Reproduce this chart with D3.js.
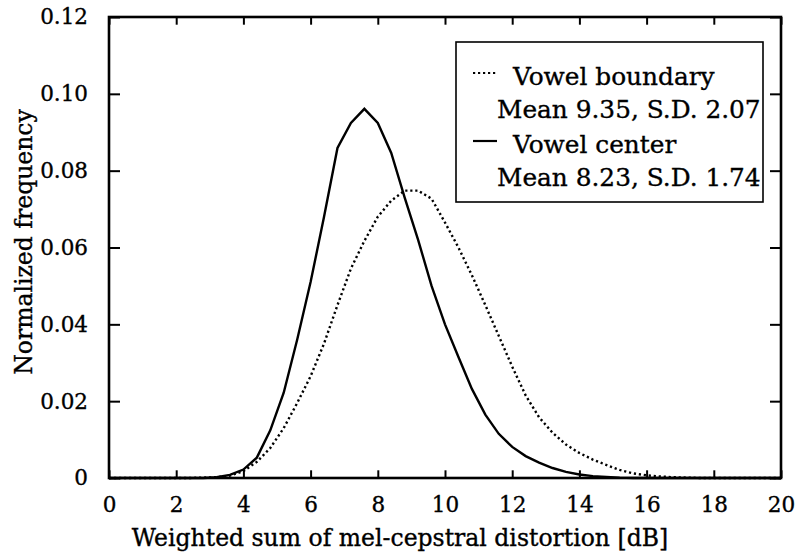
<!DOCTYPE html>
<html>
<head>
<meta charset="utf-8">
<script src="https://cdn.jsdelivr.net/npm/d3@7/dist/d3.min.js"></script>
<style>
  html, body { margin: 0; padding: 0; background: #fff; }
  svg { display: block; }
  text { font-family: "DejaVu Serif", "Liberation Serif", serif; fill: #000; stroke: #000; stroke-width: 0.35px; }
</style>
</head>
<body>
<svg id="chart" width="799" height="559"></svg>
<script>
// Histogram bin centres [dB]
const binCentres = [0, 0.4, 0.8, 1.2, 1.6, 2.0, 2.4, 2.8, 3.2, 3.6, 4.0, 4.4, 4.8, 5.2, 5.6, 6.0,
  6.4, 6.8, 7.2, 7.6, 8.0, 8.4, 8.8, 9.2, 9.6, 10.0, 10.4, 10.8, 11.2, 11.6, 12.0, 12.4, 12.8,
  13.2, 13.6, 14.0, 14.4, 14.8, 15.2, 15.6, 16.0, 16.4, 16.8, 17.2, 17.6, 18.0, 18.4, 18.8,
  19.2, 19.6, 20.0];

// Normalized frequency, vowel boundary frames
const boundaryFreq = [0, 0, 0, 0, 0, 0, 0, 0.0001, 0.0002, 0.0006, 0.0018, 0.0042, 0.0078, 0.0130, 0.0195, 0.0265,
  0.0350, 0.0450, 0.0545, 0.0617, 0.0680, 0.0722, 0.0748, 0.0748, 0.0727, 0.0665, 0.0600, 0.0528, 0.0450, 0.0370, 0.0290, 0.0215, 0.0158,
  0.0118, 0.0087, 0.0065, 0.0048, 0.0034, 0.0021, 0.0012, 0.0007, 0.0004, 0.0002, 0.0001, 0, 0, 0, 0,
  0, 0, 0];

// Normalized frequency, vowel center frames
const centerFreq = [0, 0, 0, 0, 0, 0, 0, 0, 0.0002, 0.0008, 0.0022, 0.0053, 0.0124, 0.0222, 0.0360, 0.0510,
  0.0680, 0.0859, 0.0924, 0.0961, 0.0924, 0.0846, 0.0730, 0.0620, 0.0500, 0.0400, 0.0315, 0.0232, 0.0165, 0.0115, 0.0081, 0.0057, 0.0040,
  0.0026, 0.0016, 0.0009, 0.0005, 0.0003, 0.0001, 0, 0, 0, 0, 0, 0, 0, 0, 0,
  0, 0, 0];

const xTicks = [0, 2, 4, 6, 8, 10, 12, 14, 16, 18, 20];
const yTicks = [0, 0.02, 0.04, 0.06, 0.08, 0.10, 0.12];
const yTickLabels = ["0", "0.02", "0.04", "0.06", "0.08", "0.10", "0.12"];

const legendEntries = [
  { name: "Vowel boundary", stats: "Mean 9.35, S.D. 2.07", dash: "2.2,2.8" },
  { name: "Vowel center",   stats: "Mean 8.23, S.D. 1.74", dash: null }
];

const xTitle = "Weighted sum of mel-cepstral distortion [dB]";
const yTitle = "Normalized frequency";

// ---- layout ----
const svg = d3.select("#chart");
const plot = { left: 109, right: 781, top: 17, bottom: 478 };

const x = d3.scaleLinear().domain([0, 20]).range([plot.left, plot.right]);
const y = d3.scaleLinear().domain([0, 0.12]).range([plot.bottom, plot.top]);

const tickFont = 21.5;
const titleFont = 23.5;
const legendFont = 24.8;

// inward ticks on all four sides
const tickLen = 11;
const g = svg.append("g");

g.append("g")
  .attr("transform", `translate(0,${plot.bottom})`)
  .call(d3.axisBottom(x).tickValues(xTicks).tickSizeInner(-tickLen * 0.7).tickSizeOuter(0).tickFormat(d => d).tickPadding(19))
  .call(a => a.select(".domain").remove())
  .call(a => a.selectAll("line").attr("stroke", "#000").attr("stroke-width", 2))
  .call(a => a.selectAll("text").attr("font-size", tickFont).attr("font-family", "DejaVu Serif").attr("fill", "#000"));

g.append("g")
  .attr("transform", `translate(0,${plot.top})`)
  .call(d3.axisTop(x).tickValues(xTicks).tickSizeInner(-tickLen * 0.7).tickSizeOuter(0).tickFormat(""))
  .call(a => a.select(".domain").remove())
  .call(a => a.selectAll("line").attr("stroke", "#000").attr("stroke-width", 2));

g.append("g")
  .attr("transform", `translate(${plot.left},0)`)
  .call(d3.axisLeft(y).tickValues(yTicks).tickSizeInner(-tickLen).tickSizeOuter(0)
        .tickFormat((d, i) => yTickLabels[i]).tickPadding(21))
  .call(a => a.select(".domain").remove())
  .call(a => a.selectAll("line").attr("stroke", "#000").attr("stroke-width", 2))
  .call(a => a.selectAll("text").attr("font-size", tickFont).attr("font-family", "DejaVu Serif").attr("fill", "#000"));

g.append("g")
  .attr("transform", `translate(${plot.right},0)`)
  .call(d3.axisRight(y).tickValues(yTicks).tickSizeInner(-tickLen).tickSizeOuter(0).tickFormat(""))
  .call(a => a.select(".domain").remove())
  .call(a => a.selectAll("line").attr("stroke", "#000").attr("stroke-width", 2));

// frame
svg.append("rect")
  .attr("x", plot.left).attr("y", plot.top)
  .attr("width", plot.right - plot.left).attr("height", plot.bottom - plot.top)
  .attr("fill", "none").attr("stroke", "#000").attr("stroke-width", 2.6);

// curves
const line = d3.line().x(d => x(d[0])).y(d => y(d[1]));

svg.append("path")
  .datum(binCentres.map((b, i) => [b, boundaryFreq[i]]))
  .attr("d", line).attr("fill", "none").attr("stroke", "#000")
  .attr("stroke-width", 2.4).attr("stroke-dasharray", legendEntries[0].dash);

svg.append("path")
  .datum(binCentres.map((b, i) => [b, centerFreq[i]]))
  .attr("d", line).attr("fill", "none").attr("stroke", "#000")
  .attr("stroke-width", 2.4).attr("stroke-linejoin", "miter");

// axis titles
svg.append("text")
  .attr("x", 400).attr("y", 546)
  .attr("text-anchor", "middle").attr("font-size", titleFont)
  .text(xTitle);

svg.append("text")
  .attr("transform", `translate(32,${242}) rotate(-90)`)
  .attr("text-anchor", "middle").attr("font-size", titleFont)
  .text(yTitle);

// legend
const lg = svg.append("g");
lg.append("rect")
  .attr("x", 456).attr("y", 42).attr("width", 307).attr("height", 160)
  .attr("fill", "#fff").attr("stroke", "#000").attr("stroke-width", 1.6);

legendEntries.forEach((e, i) => {
  const base = 85 + i * 68;
  lg.append("line")
    .attr("x1", 473).attr("x2", 497)
    .attr("y1", base - 12).attr("y2", base - 12)
    .attr("stroke", "#000").attr("stroke-width", 2.2)
    .attr("stroke-dasharray", e.dash);
  lg.append("text").attr("x", 513).attr("y", base).attr("font-size", legendFont).text(e.name);
  lg.append("text").attr("x", 497).attr("y", base + 33).attr("font-size", legendFont).text(e.stats);
});
</script>
</body>
</html>
